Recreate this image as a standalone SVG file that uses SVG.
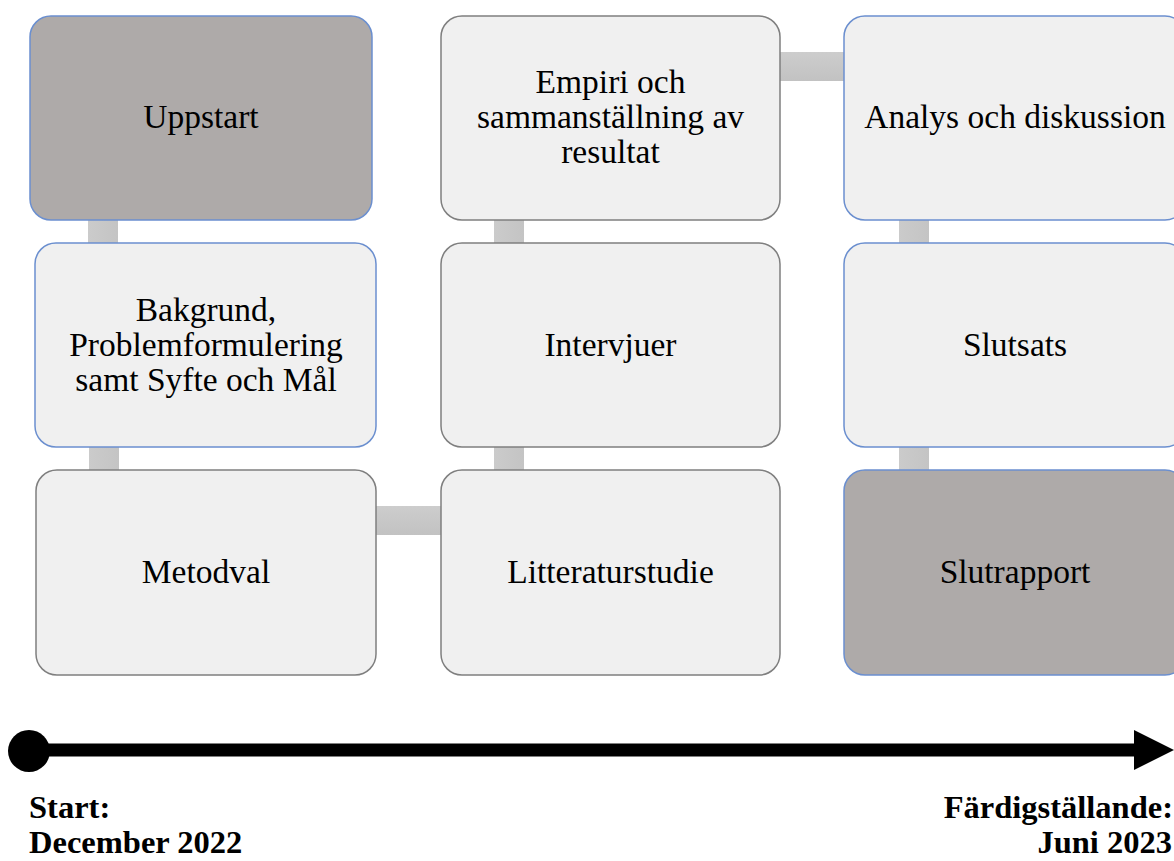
<svg xmlns="http://www.w3.org/2000/svg" width="1174" height="861" viewBox="0 0 1174 861">
<style>
.box{stroke-width:1.5}
.light{fill:#f0f0f0}
.dark{fill:#aeaaa9}
.blue{stroke:#6b8fcf}
.grey{stroke:#7f7f7f}
.lbl{font-family:"Liberation Serif","Times New Roman",serif;font-size:33.5px;fill:#000;text-anchor:middle}
.tl{font-family:"Liberation Serif","Times New Roman",serif;font-size:32.5px;font-weight:bold;fill:#000}
.conn{fill:url(#cg)}
.conh{fill:url(#cgh)}
</style>
<defs>
<linearGradient id="cg" x1="0" y1="0" x2="1" y2="0">
<stop offset="0" stop-color="#cbcbcb"/><stop offset="1" stop-color="#c4c4c4"/>
</linearGradient>
<linearGradient id="cgh" x1="0" y1="0" x2="0" y2="1">
<stop offset="0" stop-color="#cdcdcd"/><stop offset="1" stop-color="#c2c2c2"/>
</linearGradient>
</defs>
<rect width="1174" height="861" fill="#fff"/>
<g id="connectors">
<rect class="conn" x="88" y="218" width="30" height="27"/>
<rect class="conn" x="89" y="445" width="30" height="27"/>
<rect class="conh" x="374" y="506" width="69" height="29"/>
<rect class="conn" x="494" y="445" width="30" height="27"/>
<rect class="conn" x="494" y="218" width="30" height="27"/>
<rect class="conh" x="778" y="52" width="68" height="29"/>
<rect class="conn" x="899" y="218" width="30" height="27"/>
<rect class="conn" x="899" y="445" width="30" height="27"/>
</g>
<g id="uppstart">
<rect class="box dark blue" x="30" y="16" width="342" height="204" rx="21"/>
<text class="lbl" x="201" y="128">Uppstart</text>
</g>
<g id="bakgrund">
<rect class="box light blue" x="35" y="243" width="341" height="204" rx="21"/>
<text class="lbl" x="206" y="321">Bakgrund,</text>
<text class="lbl" x="206" y="356">Problemformulering</text>
<text class="lbl" x="206" y="391">samt Syfte och Mål</text>
</g>
<g id="metodval">
<rect class="box light grey" x="36" y="470" width="340" height="205" rx="21"/>
<text class="lbl" x="206" y="583">Metodval</text>
</g>
<g id="litteraturstudie">
<rect class="box light grey" x="441" y="470" width="339" height="205" rx="21"/>
<text class="lbl" x="610.5" y="583">Litteraturstudie</text>
</g>
<g id="intervjuer">
<rect class="box light grey" x="441" y="243" width="339" height="204" rx="21"/>
<text class="lbl" x="610.5" y="356">Intervjuer</text>
</g>
<g id="empiri">
<rect class="box light grey" x="441" y="16" width="339" height="204" rx="21"/>
<text class="lbl" x="610.5" y="93">Empiri och</text>
<text class="lbl" x="610.5" y="128">sammanställning av</text>
<text class="lbl" x="610.5" y="163">resultat</text>
</g>
<g id="analys">
<rect class="box light blue" x="844" y="16" width="342" height="204" rx="21"/>
<text class="lbl" x="1015" y="128">Analys och diskussion</text>
</g>
<g id="slutsats">
<rect class="box light blue" x="844" y="243" width="342" height="204" rx="21"/>
<text class="lbl" x="1015" y="356">Slutsats</text>
</g>
<g id="slutrapport">
<rect class="box dark blue" x="844" y="470" width="342" height="205" rx="21"/>
<text class="lbl" x="1015" y="583">Slutrapport</text>
</g>
<g id="timeline">
<rect x="29" y="743.5" width="1108" height="13" fill="#000"/>
<circle cx="29" cy="751" r="21" fill="#000"/>
<polygon points="1134,730 1174,750 1134,770" fill="#000"/>
<text class="tl" x="29" y="818">Start:</text>
<text class="tl" x="29" y="853">December 2022</text>
<text class="tl" x="1173" y="818" text-anchor="end">Färdigställande:</text>
<text class="tl" x="1172" y="853" text-anchor="end">Juni 2023</text>
</g>
</svg>
